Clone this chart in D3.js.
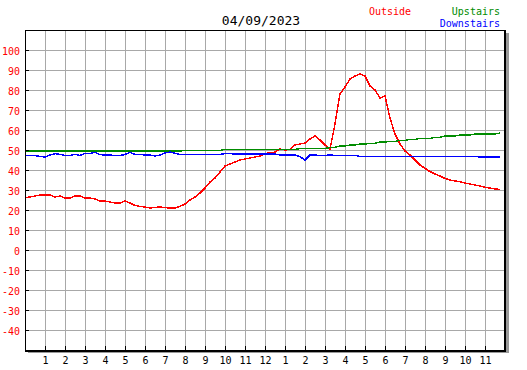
<!DOCTYPE html>
<html>
<head>
<meta charset="utf-8">
<script src="https://cdn.jsdelivr.net/npm/d3@7"></script>
<style>
  body { margin: 0; background: #fff; }
  text { font-family: "DejaVu Sans Mono", monospace; }
</style>
</head>
<body>
<svg id="chart" width="527" height="370"></svg>
<script>
// readings every 15 minutes, starting at midnight
const stepHours = 0.25;

const outside = [
  26.2, 26.5, 27, 27.5, 27.5, 27.5, 26.5, 27, 26, 26, 27, 27, 26, 26, 25.5, 24.5,
  24.5, 24, 23.5, 23.5, 24.5, 23.5, 22.3, 21.8, 21.5, 21, 21.3, 21.5, 21.2, 21, 21, 21.8,
  23, 25, 26.5, 28.5, 31, 34, 36, 39, 42, 43, 44, 45, 45.5, 46, 46.5, 47,
  48.3, 48.5, 49, 50.5, 50, 50.3, 52.5, 53, 53.5, 55.5, 57, 55, 52.5, 50.5, 63, 78,
  81.5, 85.5, 87, 88, 87, 82, 80, 76, 77, 66, 58, 53, 49.5, 47.5, 45, 42.5,
  40.8, 39.2, 38, 37, 35.8, 35, 34.5, 34.2, 33.5, 33, 32.5, 32, 31.3, 31, 30.5, 30.3
];

const upstairs = [
  49.5, 49.5, 49.5, 49.5, 49.5, 49.5, 49.5, 49.5, 49.5, 49.5, 49.5, 49.5, 49.5, 49.5, 49.5, 49.5,
  49.5, 49.5, 49.5, 49.5, 49.5, 49.5, 49.5, 49.5, 49.5, 49.5, 49.5, 49.5, 49.5, 49.5, 49.5, 49.5,
  49.8, 49.8, 49.8, 49.8, 49.8, 49.8, 49.8, 49.8, 50.3, 50.3, 50.3, 50.3, 50.3, 50.3, 50.3, 50.3,
  50.3, 50.3, 50.3, 50.3, 50.3, 50.3, 50.3, 50.7, 50.7, 50.7, 50.7, 50.7, 50.7, 51.3, 51.3, 52,
  52, 52.5, 52.5, 53, 53, 53.3, 53.3, 54, 54, 54.3, 54.3, 54.8, 54.8, 55.3, 55.3, 55.8,
  55.8, 55.8, 56.3, 56.3, 57, 57, 57, 57.5, 57.5, 57.5, 58, 58, 58, 58, 58, 58.5
];

const downstairs = [
  47.2, 47.2, 47.2, 46.8, 46.5, 47.5, 48.2, 47.8, 47.3, 47.3, 47.8, 47.3, 48.3, 48.3, 48.8, 47.7,
  47.5, 47.5, 47.2, 47.2, 47.8, 48.8, 47.8, 47.8, 47.5, 47.5, 47, 47.5, 48.5, 49, 48.3, 47.8,
  47.8, 47.8, 47.8, 47.8, 47.8, 47.8, 47.8, 47.8, 48.2, 48.2, 48, 48, 48, 48, 48, 48,
  48, 48, 48, 47.5, 47.5, 47.5, 47.5, 46.7, 45, 47.5, 47.5, 47.2, 47.3, 47.5, 47.3, 47.3,
  47.3, 47.3, 47.3, 46.8, 46.8, 46.8, 46.8, 46.8, 46.8, 46.8, 46.8, 46.8, 46.8, 46.8, 46.8, 46.8,
  46.8, 46.8, 46.8, 46.8, 46.8, 46.8, 46.8, 46.8, 46.8, 46.8, 46.8, 46.5, 46.5, 46.5, 46.5, 46.5
];

const hourTicks = [1, 2, 3, 4, 5, 6, 7, 8, 9, 10, 11, 12, 13, 14, 15, 16, 17, 18, 19, 20, 21, 22, 23];
const hourLabels = ['1', '2', '3', '4', '5', '6', '7', '8', '9', '10', '11', '12',
                    '1', '2', '3', '4', '5', '6', '7', '8', '9', '10', '11'];
const tempTicks = [-40, -30, -20, -10, 0, 10, 20, 30, 40, 50, 60, 70, 80, 90, 100];

const title = '04/09/2023';
const series = [
  { name: 'Outside', values: outside, color: '#ff0000' },
  { name: 'Upstairs', values: upstairs, color: '#008c00' },
  { name: 'Downstairs', values: downstairs, color: '#0000ff' }
];

const plot = { left: 25, top: 30, right: 505, bottom: 350 };

const svg = d3.select('#chart');

const x = d3.scaleLinear().domain([0, 24]).range([plot.left, plot.right]);
const y = d3.scaleLinear().domain([-50, 110]).range([plot.bottom, plot.top]);

// drop shadow, then plot background
svg.append('rect')
    .attr('x', plot.left + 3).attr('y', plot.top + 3)
    .attr('width', plot.right - plot.left + 1).attr('height', plot.bottom - plot.top)
    .attr('fill', '#999');
svg.append('rect')
    .attr('x', plot.left).attr('y', plot.top)
    .attr('width', plot.right - plot.left).attr('height', plot.bottom - plot.top)
    .attr('fill', '#fff');

// grid
const grid = svg.append('g').attr('shape-rendering', 'crispEdges');
grid.selectAll('.vgrid')
    .data(hourTicks)
    .join('line')
    .attr('class', 'vgrid')
    .attr('x1', d => x(d) + 0.5).attr('x2', d => x(d) + 0.5)
    .attr('y1', plot.top).attr('y2', plot.bottom)
    .attr('stroke', '#a8a8a8');
grid.selectAll('.hgrid')
    .data(tempTicks)
    .join('line')
    .attr('class', 'hgrid')
    .attr('x1', plot.left).attr('x2', plot.right)
    .attr('y1', d => y(d) + 0.5).attr('y2', d => y(d) + 0.5)
    .attr('stroke', '#a8a8a8');

// data lines (aliased, like the original plotter)
const line = d3.line()
    .x((d, i) => x(i * stepHours))
    .y(d => y(d));

svg.selectAll('.series')
    .data(series)
    .join('path')
    .attr('class', 'series')
    .attr('d', d => line(d.values))
    .attr('fill', 'none')
    .attr('stroke', d => d.color)
    .attr('stroke-width', 1.5)
    .attr('shape-rendering', 'crispEdges');

// border
const border = svg.append('g').attr('shape-rendering', 'crispEdges').attr('stroke', '#000');
border.append('line').attr('x1', plot.left).attr('x2', plot.right + 1).attr('y1', plot.top + 0.5).attr('y2', plot.top + 0.5);
border.append('line').attr('x1', plot.left + 0.5).attr('x2', plot.left + 0.5).attr('y1', plot.top).attr('y2', plot.bottom + 2);
border.append('line').attr('x1', plot.left).attr('x2', plot.right + 1).attr('y1', plot.bottom + 1).attr('y2', plot.bottom + 1).attr('stroke-width', 2);
border.append('line').attr('x1', plot.right).attr('x2', plot.right).attr('y1', plot.top).attr('y2', plot.bottom + 2).attr('stroke-width', 2);

// axes
const yAxis = svg.append('g')
    .attr('transform', `translate(${plot.left},0)`)
    .call(d3.axisLeft(y).tickValues(tempTicks).tickSize(-4).tickPadding(5).tickFormat(d => String(d)));
yAxis.select('.domain').remove();
yAxis.selectAll('line').attr('stroke', '#000').attr('shape-rendering', 'crispEdges');
yAxis.selectAll('text')
    .attr('fill', '#ff0000')
    .attr('dy', '0.45em')
    .style('font-size', '10px')
    .style('font-family', '"DejaVu Sans Mono", monospace');

const xAxis = svg.append('g')
    .attr('transform', `translate(0,${plot.bottom})`)
    .call(d3.axisBottom(x).tickValues(hourTicks).tickSize(-4).tickPadding(7)
      .tickFormat((d, i) => hourLabels[i]));
xAxis.select('.domain').remove();
xAxis.selectAll('line').attr('stroke', '#000').attr('shape-rendering', 'crispEdges');
xAxis.selectAll('text')
    .attr('fill', '#000')
    .style('font-size', '10px')
    .style('font-family', '"DejaVu Sans Mono", monospace');

// title and legend
svg.append('text')
    .attr('x', 261).attr('y', 24.5)
    .attr('text-anchor', 'middle')
    .style('font-size', '13px')
    .attr('fill', '#000')
    .text(title);

svg.append('text')
    .attr('x', 369).attr('y', 14.5)
    .style('font-size', '10px')
    .attr('fill', series[0].color)
    .text(series[0].name);
svg.append('text')
    .attr('x', 500).attr('y', 14.5)
    .attr('text-anchor', 'end')
    .style('font-size', '10px')
    .attr('fill', series[1].color)
    .text(series[1].name);
svg.append('text')
    .attr('x', 500).attr('y', 26.5)
    .attr('text-anchor', 'end')
    .style('font-size', '10px')
    .attr('fill', series[2].color)
    .text(series[2].name);
</script>
</body>
</html>
